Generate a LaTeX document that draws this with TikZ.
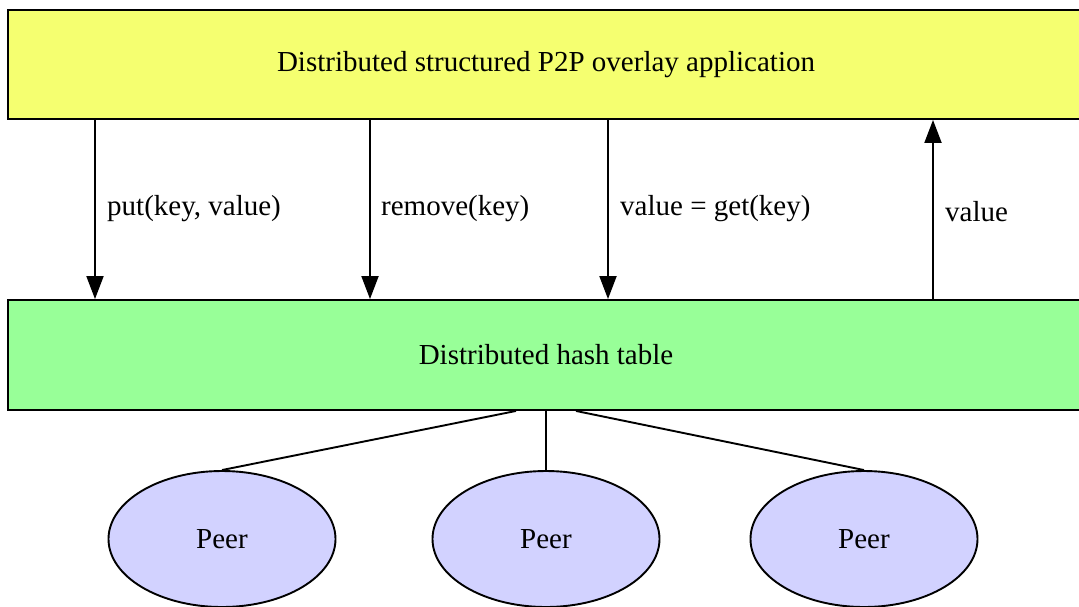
\documentclass[tikz,border=0pt]{standalone}
\usepackage{fontspec}
\setmainfont{Liberation Serif}
\usetikzlibrary{arrows.meta,shapes.geometric}
\definecolor{appyellow}{RGB}{245,255,112}
\definecolor{dhtgreen}{RGB}{152,255,152}
\definecolor{peerblue}{RGB}{210,210,255}
\tikzset{
  layerbox/.style={draw=black, line width=1.9pt, rectangle, minimum width=1076pt, inner sep=0pt, font=\fontsize{29}{33}\selectfont},
  peerell/.style={draw=black, line width=1.9pt, ellipse, fill=peerblue, minimum width=227pt, minimum height=136pt, inner sep=0pt, font=\fontsize{29}{33}\selectfont},
  callarrow/.style={line width=1.9pt, -{Triangle[length=23pt,width=17pt]}},
  tie/.style={line width=1.9pt},
  lbl/.style={anchor=west, inner sep=0pt, font=\fontsize{29}{33}\selectfont}
}
\begin{document}
\begin{tikzpicture}[x=1pt,y=-1pt]
\useasboundingbox (0,0) rectangle (1079,606);
\clip (0,0) rectangle (1079,606);
\node[layerbox, fill=appyellow, minimum height=109pt] (app) at (546,64.5) {Distributed structured P2P overlay application};
\node[layerbox, fill=dhtgreen, minimum height=110pt] (dht) at (546,355) {Distributed hash table};
\node[peerell] (p1) at (222,539) {Peer};
\node[peerell] (p2) at (546,539) {Peer};
\node[peerell] (p3) at (864,539) {Peer};
\coordinate (c1) at (95,0);
\coordinate (c2) at (370,0);
\coordinate (c3) at (608,0);
\coordinate (c4) at (933,0);
\draw[callarrow] (app.south -| c1) -- (dht.north -| c1);
\draw[callarrow] (app.south -| c2) -- (dht.north -| c2);
\draw[callarrow] (app.south -| c3) -- (dht.north -| c3);
\draw[callarrow] (dht.north -| c4) -- (app.south -| c4);
\node[lbl] (l1) at (107,209) {put(key, value)};
\node[lbl] (l2) at (381,209) {remove(key)};
\node[lbl] (l3) at (620,209) {value = get(key)};
\node[lbl] (l4) at (945,212) {value};
\coordinate (d1) at (516,0);
\coordinate (d3) at (576,0);
\draw[tie] (dht.south -| d1) -- (p1.north);
\draw[tie] (dht.south) -- (p2.north);
\draw[tie] (dht.south -| d3) -- (p3.north);
\end{tikzpicture}
\end{document}
